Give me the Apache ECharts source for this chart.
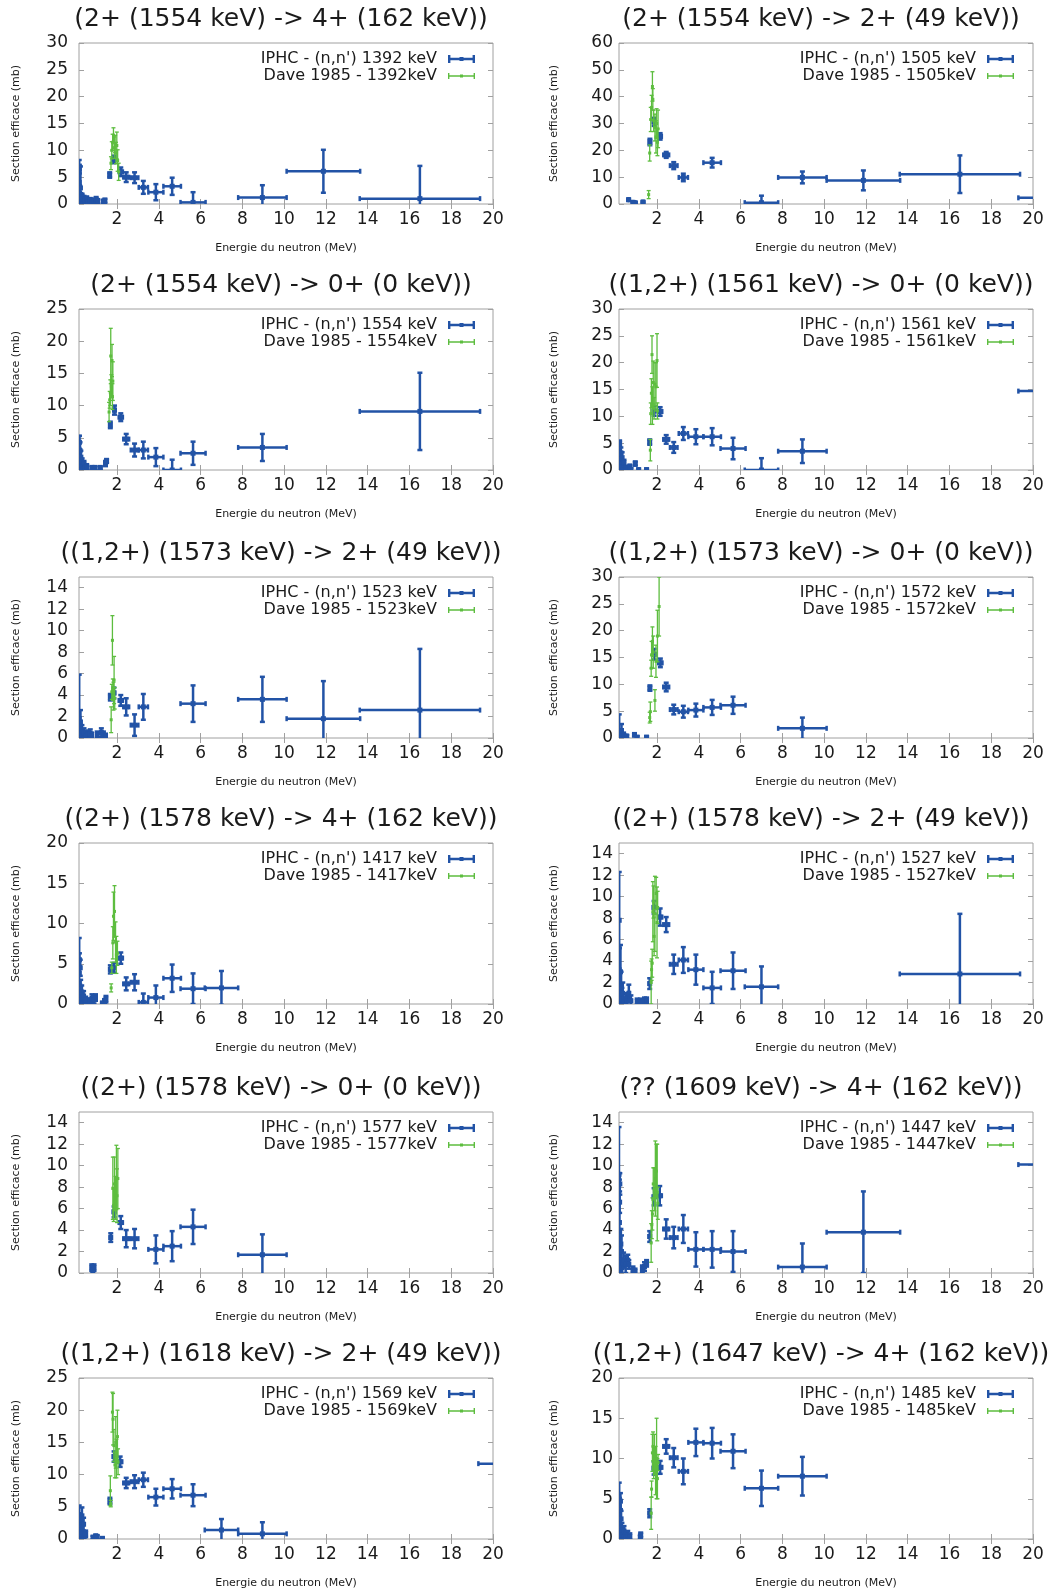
<!DOCTYPE html>
<html><head><meta charset="utf-8">
<script src="https://cdn.jsdelivr.net/npm/echarts@6/dist/echarts.min.js"></script>
<style>html,body{margin:0;padding:0;background:#fff}#c{width:1053px;height:1591px}</style>
</head><body><div id="c"></div><script>
// ---------- data ----------
const TITLES = [
  "(2+ (1554 keV) -> 4+ (162 keV))",
  "(2+ (1554 keV) -> 2+ (49 keV))",
  "(2+ (1554 keV) -> 0+ (0 keV))",
  "((1,2+) (1561 keV) -> 0+ (0 keV))",
  "((1,2+) (1573 keV) -> 2+ (49 keV))",
  "((1,2+) (1573 keV) -> 0+ (0 keV))",
  "((2+) (1578 keV) -> 4+ (162 keV))",
  "((2+) (1578 keV) -> 2+ (49 keV))",
  "((2+) (1578 keV) -> 0+ (0 keV))",
  "(?? (1609 keV) -> 4+ (162 keV))",
  "((1,2+) (1618 keV) -> 2+ (49 keV))",
  "((1,2+) (1647 keV) -> 4+ (162 keV))"
];
const LINE_KEV = [1392, 1505, 1554, 1561, 1523, 1572, 1417, 1527, 1577, 1447, 1569, 1485];
const Y_MAX = [30, 60, 25, 30, 15, 30, 20, 15, 15, 15, 25, 20];
const Y_STEP = [5, 10, 5, 5, 2, 5, 5, 2, 2, 2, 5, 5];
const X_TICKS = [2, 4, 6, 8, 10, 12, 14, 16, 18, 20];
const X_MIN = 0.18, X_MAX = 20;

// each point: [energy MeV, cross section mb, energy half-width, cross section error]
const IPHC_1 = [[0.19,4.0,0.01,4.2],[0.2,6.5,0.01,0.8],[0.21,2.0,0.01,1.5],[0.23,0.6,0.01,0.8],[0.25,3.0,0.01,4.0],[0.27,1.2,0.01,0.8],[0.3,0.8,0.015,0.8],[0.33,1.3,0.015,0.6],[0.37,0.5,0.015,0.6],[0.42,1.0,0.02,0.5],[0.48,0.6,0.02,0.5],[0.55,0.9,0.02,0.5],[0.63,0.4,0.02,0.4],[0.72,0.7,0.03,0.4],[0.8,0.3,0.03,0.4],[0.9,0.6,0.03,0.4],[1.0,0.9,0.03,0.4],[1.08,0.5,0.03,0.4],[1.35,0.4,0.04,0.4],[1.42,0.6,0.04,0.4],[1.65,5.4,0.04,0.5],[1.85,8.3,0.05,0.7],[2.18,6.0,0.1,0.8],[2.44,5.0,0.14,0.9],[2.84,4.9,0.18,1.0],[3.26,3.1,0.22,1.2],[3.86,2.2,0.36,1.5],[4.64,3.3,0.42,1.6],[5.64,0.3,0.6,1.9],[8.96,1.2,1.16,2.3],[11.88,6.1,1.76,4.0],[16.5,1.0,2.88,6.1]];
const DAVE_1 = [[1.71,7.6,0.01,1.2],[1.75,10.0,0.01,1.6],[1.79,11.5,0.01,1.5],[1.83,12.8,0.01,1.4],[1.87,10.5,0.01,2.0],[1.91,11.2,0.01,1.6],[1.95,9.5,0.01,2.0],[1.99,10.9,0.01,2.5],[2.03,8.1,0.01,2.0],[2.08,6.0,0.01,1.6]];

const IPHC_2 = [[0.64,1.6,0.03,0.3],[0.85,0.6,0.03,0.3],[0.96,0.4,0.03,0.3],[1.33,0.7,0.04,0.3],[1.66,23.1,0.05,1.2],[1.86,30.6,0.06,1.5],[2.15,25.2,0.08,1.2],[2.44,18.3,0.14,1.1],[2.8,14.3,0.18,1.3],[3.26,9.9,0.22,1.4],[4.64,15.4,0.42,1.8],[7.0,0.5,0.8,2.6],[8.96,9.9,1.16,2.2],[11.88,8.8,1.76,3.7],[16.5,11.1,2.88,7.0],[22,2.3,2.7,0]];
const DAVE_2 = [[1.6,3.5,0.01,1.5],[1.65,19,0.01,3],[1.7,31.5,0.01,4.5],[1.74,36,0.01,4.5],[1.78,43.8,0.01,5.5],[1.8,39,0.01,4],[1.84,31,0.01,4],[1.9,28.5,0.01,5],[1.95,25,0.01,6],[1.98,30,0.01,5.5],[2.02,23,0.01,5],[2.05,28,0.01,7]];

const IPHC_3 = [[0.19,2.5,0.01,2.8],[0.2,4.3,0.01,1.0],[0.21,1.2,0.01,1.2],[0.23,3.0,0.01,1.3],[0.25,0.5,0.01,0.8],[0.27,2.0,0.01,1.0],[0.3,0.8,0.015,0.8],[0.33,1.2,0.015,0.6],[0.37,0.3,0.015,0.5],[0.42,0.9,0.02,0.5],[0.48,0.3,0.02,0.4],[0.55,0.5,0.02,0.4],[0.8,0.3,0.03,0.3],[0.88,0.2,0.03,0.3],[0.95,0.3,0.03,0.3],[1.2,0.3,0.04,0.3],[1.45,1.0,0.04,0.4],[1.5,1.4,0.04,0.3],[1.68,7.0,0.04,0.5],[1.88,9.3,0.06,0.7],[2.18,8.2,0.1,0.6],[2.44,4.8,0.14,0.8],[2.84,3.1,0.18,1.0],[3.26,3.1,0.22,1.3],[3.86,2.0,0.36,1.4],[4.64,0.0,0.42,1.6],[5.64,2.6,0.6,1.8],[8.96,3.5,1.16,2.1],[16.5,9.1,2.88,6.0]];
const DAVE_3 = [[1.62,9.0,0.01,1.5],[1.65,10.9,0.01,1.3],[1.68,12.0,0.01,2.0],[1.7,17.7,0.01,4.3],[1.73,13.0,0.01,1.8],[1.76,17.0,0.01,2.5],[1.78,11.4,0.01,2.0],[1.8,13.8,0.01,3.0]];

const IPHC_4 = [[0.19,1.0,0.01,4.3],[0.2,3.5,0.01,1.5],[0.21,5.0,0.01,0.5],[0.23,0.5,0.01,1.0],[0.25,2.0,0.01,1.2],[0.27,3.2,0.01,1.0],[0.3,1.0,0.015,1.0],[0.33,2.3,0.015,1.0],[0.37,0.5,0.015,0.8],[0.42,1.3,0.02,0.6],[0.5,0.3,0.02,0.5],[0.7,0.6,0.03,0.4],[0.75,0.1,0.03,0.3],[0.96,1.2,0.03,0.4],[1.12,0.0,0.03,0.3],[1.5,0.0,0.04,0.3],[1.65,5.2,0.04,0.5],[1.86,11.0,0.06,0.9],[2.15,10.9,0.1,0.8],[2.44,5.7,0.14,0.8],[2.8,4.2,0.18,1.0],[3.26,6.8,0.22,1.2],[3.86,6.2,0.36,1.4],[4.64,6.2,0.42,1.6],[5.64,4.0,0.6,2.0],[7.0,0.0,0.8,2.2],[8.96,3.5,1.16,2.2],[22,14.7,2.7,0]];
const DAVE_4 = [[1.68,3.7,0.01,2.0],[1.7,10.5,0.01,2.0],[1.73,14.3,0.01,2.7],[1.76,21.5,0.01,3.5],[1.78,12.0,0.01,3.5],[1.82,16.3,0.01,4.0],[1.86,11.5,0.01,2.0],[1.9,16.0,0.01,4.0],[1.95,15.5,0.01,4.5],[2.0,20.4,0.01,5.0],[2.02,11.0,0.01,1.5]];

const IPHC_5 = [[0.19,1.8,0.01,4.1],[0.21,0.3,0.01,0.6],[0.25,1.5,0.01,1.1],[0.28,0.3,0.01,0.5],[0.32,0.7,0.015,0.5],[0.36,0.2,0.015,0.4],[0.42,0.5,0.02,0.4],[0.5,0.2,0.02,0.4],[0.6,0.3,0.02,0.4],[0.72,0.4,0.03,0.4],[0.78,0.2,0.03,0.3],[1.05,0.3,0.03,0.3],[1.25,0.5,0.04,0.4],[1.35,0.3,0.04,0.3],[1.45,0.1,0.04,0.3],[1.68,3.8,0.04,0.3],[1.85,4.2,0.06,0.5],[2.18,3.5,0.1,0.5],[2.44,2.9,0.14,0.8],[2.84,1.2,0.18,1.0],[3.26,2.9,0.22,1.2],[5.64,3.2,0.6,1.7],[8.96,3.6,1.16,2.1],[11.88,1.8,1.76,3.5],[16.5,2.6,2.88,5.7]];
const DAVE_5 = [[1.72,1.7,0.01,1.2],[1.75,4.3,0.01,0.7],[1.78,9.1,0.01,2.3],[1.8,4.5,0.01,1.0],[1.83,3.9,0.01,1.3],[1.86,5.4,0.01,2.2],[1.89,3.7,0.01,1.0]];

const IPHC_6 = [[0.19,1.4,0.01,3.0],[0.21,0.3,0.01,0.5],[0.25,0.8,0.01,0.6],[0.3,1.4,0.015,1.2],[0.34,0.3,0.015,0.5],[0.4,0.6,0.02,0.4],[0.47,0.2,0.02,0.4],[0.55,0.3,0.02,0.3],[0.92,0.6,0.03,0.3],[1.05,0.1,0.03,0.3],[1.5,0.1,0.04,0.3],[1.66,9.3,0.04,0.5],[1.86,15.6,0.06,1.0],[2.16,14.0,0.1,0.8],[2.44,9.5,0.14,0.8],[2.8,5.3,0.18,0.9],[3.26,4.9,0.22,1.1],[3.86,5.2,0.36,1.2],[4.64,5.7,0.42,1.4],[5.64,6.1,0.6,1.6],[8.96,1.8,1.16,2.0]];
const DAVE_6 = [[1.65,3.8,0.01,1.0],[1.68,4.9,0.01,1.8],[1.72,13.0,0.01,1.5],[1.74,15.5,0.01,2.5],[1.78,18.0,0.01,2.7],[1.82,16.0,0.01,3.0],[1.9,7.0,0.01,2.0],[1.95,14.3,0.01,3.0],[2.02,19.0,0.01,4.8],[2.1,24.5,0.01,5.5]];

const IPHC_7 = [[0.19,3.8,0.01,4.4],[0.2,5.5,0.01,0.8],[0.22,1.2,0.01,1.2],[0.24,4.5,0.01,1.0],[0.26,2.0,0.01,1.0],[0.28,0.5,0.01,0.8],[0.31,1.5,0.015,0.8],[0.35,0.3,0.015,0.5],[0.4,1.0,0.02,0.6],[0.45,0.2,0.02,0.4],[0.5,0.5,0.02,0.4],[0.7,0.3,0.03,0.4],[0.8,0.7,0.03,0.5],[0.9,0.5,0.03,0.5],[0.97,0.8,0.03,0.4],[1.3,0.0,0.04,0.3],[1.4,0.3,0.04,0.3],[1.47,0.6,0.04,0.4],[1.68,4.3,0.04,0.5],[1.86,4.5,0.06,0.6],[2.18,5.7,0.1,0.7],[2.44,2.5,0.14,0.8],[2.84,2.7,0.18,1.0],[3.26,0.2,0.22,1.1],[3.86,0.8,0.36,1.5],[4.64,3.2,0.42,1.7],[5.64,1.9,0.6,1.9],[7.0,2.0,0.8,2.1]];
const DAVE_7 = [[1.72,2.0,0.01,0.5],[1.75,4.5,0.01,0.7],[1.8,7.6,0.01,2.0],[1.83,10.9,0.01,3.0],[1.88,11.5,0.01,3.2],[1.93,7.7,0.01,2.5],[1.97,6.1,0.01,2.3],[2.02,6.3,0.01,1.5]];

const IPHC_8 = [[0.19,7.8,0.01,4.5],[0.2,2.7,0.01,2.5],[0.22,0.5,0.01,0.6],[0.25,3.0,0.01,2.5],[0.28,1.5,0.015,1.5],[0.32,0.5,0.015,1.0],[0.36,1.0,0.015,1.0],[0.42,0.2,0.02,0.4],[0.5,0.5,0.02,0.5],[0.58,0.3,0.02,0.6],[0.65,1.0,0.03,0.8],[0.75,0.3,0.03,0.5],[1.05,0.2,0.03,0.3],[1.2,0.2,0.04,0.3],[1.4,0.3,0.04,0.3],[1.5,0.3,0.04,0.3],[1.65,1.9,0.04,0.5],[1.86,9.0,0.06,0.6],[2.15,8.1,0.1,0.8],[2.44,7.4,0.14,0.7],[2.8,3.7,0.18,0.9],[3.26,4.1,0.22,1.2],[3.86,3.2,0.36,1.4],[4.64,1.5,0.42,1.5],[5.64,3.1,0.6,1.7],[7.0,1.6,0.8,1.9],[16.5,2.8,2.88,5.6]];
const DAVE_8 = [[1.72,2.0,0.01,2.0],[1.74,3.2,0.01,1.0],[1.77,3.8,0.01,1.3],[1.8,8.6,0.01,2.8],[1.83,9.5,0.01,1.5],[1.86,6.3,0.01,1.8],[1.9,8.4,0.01,3.5],[1.96,10.3,0.01,1.5],[2.0,7.6,0.01,3.3],[2.03,9.0,0.01,1.5]];

const IPHC_9 = [[0.79,0.5,0.03,0.3],[0.84,0.3,0.03,0.3],[0.9,0.5,0.03,0.3],[1.7,3.3,0.04,0.4],[1.86,5.7,0.06,0.5],[2.18,4.7,0.1,0.6],[2.44,3.2,0.14,0.8],[2.84,3.2,0.18,0.9],[3.86,2.2,0.36,1.3],[4.64,2.5,0.42,1.4],[5.64,4.3,0.6,1.6],[8.96,1.7,1.16,1.9]];
const DAVE_9 = [[1.8,7.9,0.01,2.9],[1.84,6.3,0.01,1.5],[1.88,8.3,0.01,2.5],[1.93,7.0,0.01,2.0],[1.97,8.9,0.01,3.0],[2.0,7.2,0.01,2.5],[2.04,8.8,0.01,2.8]];

const IPHC_10 = [[0.18,9.2,0.01,4.4],[0.19,2.1,0.01,2.0],[0.2,4.7,0.01,4.0],[0.21,6.6,0.01,1.0],[0.22,8.3,0.01,1.0],[0.24,0.5,0.01,0.8],[0.27,2.7,0.015,1.4],[0.3,2.0,0.015,1.5],[0.33,0.5,0.015,0.8],[0.4,1.2,0.02,0.7],[0.5,0.8,0.02,0.8],[0.6,1.2,0.02,0.5],[0.65,0.8,0.03,0.4],[0.85,0.3,0.03,0.3],[0.95,0.1,0.03,0.3],[1.3,0.4,0.04,0.3],[1.4,0.6,0.04,0.4],[1.5,0.9,0.04,0.3],[1.65,3.4,0.04,0.5],[1.86,7.1,0.06,0.8],[2.13,7.2,0.1,0.9],[2.44,4.1,0.14,0.9],[2.8,3.3,0.18,1.0],[3.26,4.1,0.22,1.3],[3.86,2.2,0.36,1.6],[4.64,2.2,0.42,1.7],[5.64,2.0,0.6,1.9],[8.96,0.55,1.16,2.2],[11.88,3.8,1.76,3.8],[22,10.1,2.7,0]];
const DAVE_10 = [[1.72,2.8,0.01,1.8],[1.75,4.5,0.01,1.3],[1.78,5.5,0.01,1.5],[1.82,8.3,0.01,1.5],[1.87,7.8,0.01,2.0],[1.92,8.8,0.01,3.5],[1.97,9.5,0.01,2.5],[2.01,7.5,0.01,4.5],[2.04,6.5,0.01,1.5]];

const IPHC_11 = [[0.19,1.0,0.01,4.2],[0.21,2.0,0.01,1.0],[0.23,0.5,0.01,0.8],[0.25,3.0,0.01,1.0],[0.28,0.8,0.01,0.8],[0.32,3.6,0.015,1.3],[0.36,1.1,0.015,1.0],[0.4,2.3,0.02,1.0],[0.45,0.5,0.02,0.6],[0.5,0.8,0.02,0.5],[0.85,0.2,0.03,0.3],[0.98,0.4,0.03,0.3],[1.05,0.3,0.03,0.3],[1.3,0.0,0.04,0.3],[1.66,5.9,0.04,0.5],[1.86,12.8,0.06,0.8],[2.15,12.0,0.1,0.8],[2.44,8.7,0.14,0.8],[2.84,8.9,0.18,1.0],[3.26,9.2,0.22,1.1],[3.86,6.5,0.36,1.3],[4.64,7.8,0.42,1.5],[5.64,6.8,0.6,1.7],[7.0,1.4,0.8,1.7],[8.96,0.8,1.16,1.8],[22,11.7,2.7,0]];
const DAVE_11 = [[1.68,7.5,0.01,2.3],[1.7,5.5,0.01,0.5],[1.78,19.7,0.01,3.1],[1.81,18.6,0.01,4.0],[1.85,14.5,0.01,2.5],[1.9,11.5,0.01,2.0],[1.94,15.0,0.01,4.0],[1.97,12.5,0.01,3.0],[2.02,15.9,0.01,4.1],[2.05,12.0,0.01,2.0]];

const IPHC_12 = [[0.19,3.0,0.01,4.0],[0.2,4.1,0.01,1.0],[0.22,1.2,0.01,1.2],[0.25,4.7,0.01,1.0],[0.28,2.5,0.015,1.0],[0.32,1.0,0.015,1.0],[0.37,0.5,0.015,0.8],[0.42,1.0,0.02,0.6],[0.5,0.3,0.02,0.5],[0.6,0.5,0.02,0.5],[0.7,0.3,0.03,0.4],[1.2,0.2,0.04,0.3],[1.22,0.5,0.04,0.3],[1.65,3.2,0.04,0.5],[1.86,8.8,0.06,0.8],[2.15,8.9,0.1,0.8],[2.44,11.5,0.14,0.9],[2.8,10.1,0.18,1.2],[3.26,8.4,0.22,1.6],[3.86,12.0,0.36,1.7],[4.64,11.9,0.42,1.9],[5.64,10.9,0.6,2.1],[7.0,6.3,0.8,2.2],[8.96,7.8,1.16,2.4]];
const DAVE_12 = [[1.72,3.2,0.01,2.0],[1.74,6.2,0.01,1.0],[1.78,10.7,0.01,2.3],[1.81,11.5,0.01,1.8],[1.84,9.5,0.01,2.0],[1.88,10.5,0.01,2.5],[1.93,8.5,0.01,3.0],[1.98,10.0,0.01,5.0],[2.02,7.5,0.01,2.5],[2.05,9.5,0.01,1.0]];

const IPHC = [IPHC_1, IPHC_2, IPHC_3, IPHC_4, IPHC_5, IPHC_6, IPHC_7, IPHC_8, IPHC_9, IPHC_10, IPHC_11, IPHC_12];
const DAVE = [DAVE_1, DAVE_2, DAVE_3, DAVE_4, DAVE_5, DAVE_6, DAVE_7, DAVE_8, DAVE_9, DAVE_10, DAVE_11, DAVE_12];

// ---------- styling / layout ----------
const FONT = 'DejaVu Sans';
const BLUE = '#2253a6', GREEN = '#5dbd3f', TXT = '#1a1a1a', BORDER = '#a0a0a0';
const COL_X = [79, 619], ROW_Y = [43, 309, 577, 843, 1112, 1378], PW = 414, PH = 161;
const LABEL_MARGIN = [11, 6];

function errRender(lw, cap, sq) {
  return function (params, api) {
    const x = api.value(0), y = api.value(1), dx = api.value(2), dy = api.value(3);
    const color = api.visual('color');
    const c = api.coord([x, y]);
    const l = api.coord([x - dx, y]), r = api.coord([x + dx, y]);
    const t = api.coord([x, y + dy]), b = api.coord([x, y - dy]);
    const st = { stroke: color, lineWidth: lw, fill: null };
    const ch = [];
    if (r[0] - l[0] > 1) {
      ch.push({ type: 'line', shape: { x1: l[0], y1: c[1], x2: r[0], y2: c[1] }, style: st });
      ch.push({ type: 'line', shape: { x1: l[0], y1: c[1] - cap, x2: l[0], y2: c[1] + cap }, style: st });
      ch.push({ type: 'line', shape: { x1: r[0], y1: c[1] - cap, x2: r[0], y2: c[1] + cap }, style: st });
    }
    if (b[1] - t[1] > 1) {
      ch.push({ type: 'line', shape: { x1: c[0], y1: t[1], x2: c[0], y2: b[1] }, style: st });
      ch.push({ type: 'line', shape: { x1: c[0] - cap, y1: t[1], x2: c[0] + cap, y2: t[1] }, style: st });
      ch.push({ type: 'line', shape: { x1: c[0] - cap, y1: b[1], x2: c[0] + cap, y2: b[1] }, style: st });
    }
    ch.push({ type: 'rect', shape: { x: c[0] - sq / 2, y: c[1] - sq / 2, width: sq, height: sq }, style: { fill: color } });
    return { type: 'group', children: ch };
  };
}

const ICON_BLUE = 'path://M0,0h2.4v8h-2.4z M24.6,0h2.4v8h-2.4z M0,2.8h27v2.4h-27z M11.5,2h4v4h-4z';
const ICON_GREEN = 'path://M0,0h1.4v6h-1.4z M25.6,0h1.4v6h-1.4z M0,2.3h27v1.4h-27z M12,1.5h3v3h-3z';

const option = { animation: false, backgroundColor: '#fff', title: [], legend: [], grid: [], xAxis: [], yAxis: [], series: [] };

for (let i = 0; i < 12; i++) {
  const col = i % 2, row = Math.floor(i / 2);
  const L = COL_X[col], T = ROW_Y[row];
  const yTicks = [];
  for (let v = 0; v <= Y_MAX[i] + 1e-9; v += Y_STEP[i]) yTicks.push(v);

  option.grid.push({ left: L, top: T, width: PW, height: PH, show: true, borderColor: BORDER, borderWidth: 1 });

  option.title.push({
    text: TITLES[i], left: L + PW / 2 - 5, top: T - 36, textAlign: 'center', padding: 0,
    textStyle: { fontSize: 25, fontWeight: 'normal', fontFamily: FONT, color: TXT }
  });

  const tickStyle = { inside: true, length: 5, lineStyle: { color: BORDER, width: 1 } };
  const xBase = { type: 'value', gridIndex: i, min: X_MIN, max: X_MAX, splitLine: { show: false }, axisLine: { show: false } };
  option.xAxis.push(Object.assign({}, xBase, {
    position: 'bottom',
    axisTick: Object.assign({ customValues: X_TICKS }, tickStyle),
    axisLabel: { customValues: X_TICKS, fontSize: 17, color: TXT, fontFamily: FONT, margin: 7 },
    name: 'Energie du neutron (MeV)', nameLocation: 'middle', nameGap: 39,
    nameTextStyle: { fontSize: 11, fontFamily: FONT, color: TXT }
  }));
  option.xAxis.push(Object.assign({}, xBase, {
    position: 'top', axisTick: Object.assign({ customValues: X_TICKS }, tickStyle), axisLabel: { show: false }
  }));
  const yBase = { type: 'value', gridIndex: i, min: 0, max: Y_MAX[i], splitLine: { show: false }, axisLine: { show: false } };
  option.yAxis.push(Object.assign({}, yBase, {
    position: 'left',
    axisTick: Object.assign({ customValues: yTicks }, tickStyle),
    axisLabel: { customValues: yTicks, fontSize: 17, color: TXT, fontFamily: FONT, margin: LABEL_MARGIN[col] },
    name: 'Section efficace (mb)', nameLocation: 'middle', nameGap: col === 0 ? 57 : 59,
    nameTextStyle: { fontSize: 11, fontFamily: FONT, color: TXT }
  }));
  option.yAxis.push(Object.assign({}, yBase, {
    position: 'right', axisTick: Object.assign({ customValues: yTicks }, tickStyle), axisLabel: { show: false }
  }));

  const nameI = "IPHC - (n,n') " + LINE_KEV[i] + " keV";
  const nameD = "Dave 1985 - " + LINE_KEV[i] + "keV";
  option.series.push({
    type: 'custom', name: nameI, xAxisIndex: 2 * i, yAxisIndex: 2 * i, clip: true,
    itemStyle: { color: BLUE }, encode: { x: 0, y: 1 },
    renderItem: errRender(2.5, 2.5, 5), data: IPHC[i]
  });
  option.series.push({
    type: 'custom', name: nameD, xAxisIndex: 2 * i, yAxisIndex: 2 * i, clip: true,
    itemStyle: { color: GREEN }, encode: { x: 0, y: 1 },
    renderItem: errRender(1.3, 2, 3), data: DAVE[i]
  });

  const rightPos = col === 0 ? 1053 - 475 : 1053 - 1014;
  const legendText = { fontSize: 16, color: TXT, fontFamily: FONT, padding: [0, 6, 0, 0] };
  option.legend.push({
    data: [{ name: nameI, icon: ICON_BLUE }], right: rightPos, top: T + 8, align: 'right', orient: 'vertical',
    itemWidth: 27, itemHeight: 8, padding: 0, selectedMode: false, textStyle: legendText
  });
  option.legend.push({
    data: [{ name: nameD, icon: ICON_GREEN }], right: rightPos, top: T + 25, align: 'right', orient: 'vertical',
    itemWidth: 27, itemHeight: 6, padding: 0, selectedMode: false, textStyle: legendText
  });
}

const chart = echarts.init(document.getElementById('c'), null, { renderer: 'canvas' });
chart.setOption(option);
</script></body></html>
